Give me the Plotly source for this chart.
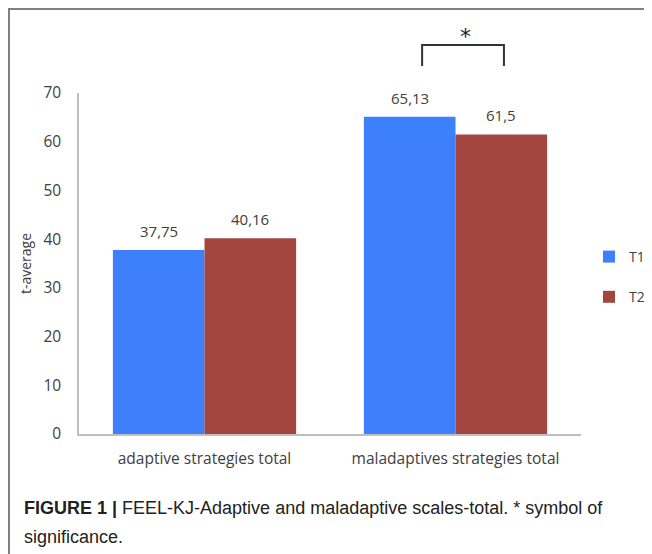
import plotly.graph_objects as go

categories = ["adaptive strategies total", "maladaptives strategies total"]
t1_values = [37.75, 65.13]
t2_values = [40.16, 61.5]
t1_labels = ["37,75", "65,13"]
t2_labels = ["40,16", "61,5"]
y_ticks = [0, 10, 20, 30, 40, 50, 60, 70]

BLUE = "#3E7FFB"
RED = "#A2463F"
TXT = "#404040"
FONT = "Open Sans"

W, H = 652, 554
OFF = 8  # page body margin: screen = figure px + OFF
ML, MR, MT, MB = 79 - OFF, W - (581 - OFF), 93 - OFF, H - (434 - OFF)
PW, PH = W - ML - MR, H - MT - MB

def px_x(s):
    """screen x -> paper x"""
    return (s - OFF - ML) / PW

def px_y(s):
    """screen y -> paper y"""
    return (H - MB - (s - OFF)) / PH

bargap = 0.27
half = (1 - bargap) / 4  # offset of each bar centre from category centre

fig = go.Figure()
fig.add_trace(go.Bar(name="T1", x=categories, y=t1_values, marker_color=BLUE,
                     marker_line_width=0, legendgroup="a"))
fig.add_trace(go.Bar(name="T2", x=categories, y=t2_values, marker_color=RED,
                     marker_line_width=0, legendgroup="b"))

annotations = []
for i, (v, t) in enumerate(zip(t1_values, t1_labels)):
    annotations.append(dict(x=i - half, y=v, xref="x", yref="y", text=t, showarrow=False,
                            yshift=19, font=dict(family=FONT, size=15, color=TXT)))
for i, (v, t) in enumerate(zip(t2_values, t2_labels)):
    annotations.append(dict(x=i + half, y=v, xref="x", yref="y", text=t, showarrow=False,
                            yshift=19, font=dict(family=FONT, size=15, color=TXT)))

# significance star
annotations.append(dict(x=1 + 0.038, y=px_y(22), xref="x", yref="paper", text="*",
                        showarrow=False, font=dict(family="DejaVu Sans", size=22, color="#222")))

# caption
annotations.append(dict(x=px_x(22), y=px_y(508), xref="paper", yref="paper", xanchor="left",
                        yanchor="middle", showarrow=False, align="left",
                        text="<b>FIGURE 1 |</b> FEEL-KJ-Adaptive and maladaptive scales-total. * symbol of",
                        font=dict(family="Liberation Sans", size=18, color="#222")))
annotations.append(dict(x=px_x(22), y=px_y(537), xref="paper", yref="paper", xanchor="left",
                        yanchor="middle", showarrow=False, align="left",
                        text="significance.",
                        font=dict(family="Liberation Sans", size=18, color="#222")))

shapes = [
    # outer frame
    dict(type="rect", xref="paper", yref="paper", x0=px_x(9), x1=px_x(700),
         y0=px_y(620), y1=px_y(9), line=dict(color="#808080", width=2)),
    # significance bracket
    dict(type="path", xref="x", yref="paper",
         path=f"M {1 - 0.133},{px_y(66)} L {1 - 0.133},{px_y(45)} L {1 + 0.193},{px_y(45)} L {1 + 0.193},{px_y(66)}",
         line=dict(color="#333", width=2)),
]

fig.update_layout(
    width=W, height=H,
    margin=dict(l=ML, r=MR, t=MT, b=MB, autoexpand=False),
    paper_bgcolor="white", plot_bgcolor="white",
    barmode="group", bargap=bargap, bargroupgap=0,
    font=dict(family=FONT, color=TXT),
    showlegend=True,
    legend=dict(xref="container", yref="container",
                x=(589 - OFF) / W, y=1 - (241 - OFF) / H, xanchor="left", yanchor="top",
                tracegroupgap=19, font=dict(family=FONT, size=14, color=TXT),
                itemwidth=30, bgcolor="rgba(0,0,0,0)"),
    annotations=annotations,
    shapes=shapes,
)
fig.update_yaxes(range=[0, 70], tickvals=y_ticks, showgrid=False, zeroline=False,
                 showline=True, linecolor="#BFBFBF", linewidth=1.5, ticks="",
                 ticklabelstandoff=13, tickfont=dict(family=FONT, size=15.5, color=TXT),
                 title=dict(text="t-average", standoff=9, font=dict(family=FONT, size=14, color=TXT)))
fig.update_xaxes(showgrid=False, showline=True, linecolor="#BFBFBF", linewidth=1.5, ticks="",
                 ticklabelstandoff=10, tickfont=dict(family=FONT, size=15.5, color=TXT))

fig.write_html("out.html")
